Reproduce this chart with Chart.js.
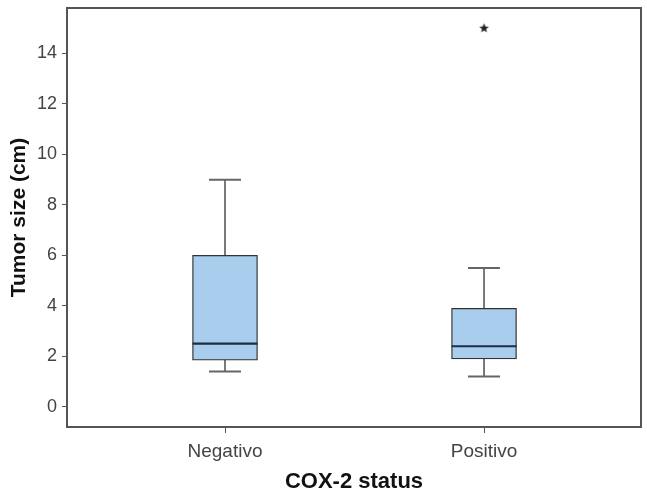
<!DOCTYPE html>
<html>
<head>
<meta charset="utf-8">
<script src="https://cdn.jsdelivr.net/npm/chart.js@4"></script>
<style>
  html, body { margin: 0; padding: 0; background: #fff; }
  #wrap { width: 647px; height: 495px; }
</style>
</head>
<body>
<div id="wrap"><canvas id="myChart" width="647" height="495"></canvas></div>
<script>
// -- DATA ---------------//
const Groups = ['Negativo', 'Positivo'];
const WhiskerLow = [1.4, 1.2];
const Q1 = [1.85, 1.9];
const Median = [2.5, 2.4];
const Q3 = [6, 3.9];
const WhiskerHigh = [9, 5.5];
const OutlierGroup = [2];
const OutlierValue = [15];
const YTicks = [0, 2, 4, 6, 8, 10, 12, 14];

// star marker for the extreme value
const star = document.createElement('canvas');
star.width = 11; star.height = 11;
(function () {
	const c = star.getContext('2d');
	c.fillStyle = '#222';
	c.beginPath();
	for (let i = 0; i < 10; i++) {
		const r = i % 2 === 0 ? 5 : 2.2;
		const a = -Math.PI / 2 + i * Math.PI / 5;
		const px = 5.5 + r * Math.cos(a), py = 5.5 + r * Math.sin(a);
		if (i === 0) c.moveTo(px, py); else c.lineTo(px, py);
	}
	c.closePath();
	c.fill();
})();

// whiskers, medians and the frame
const boxExtras = {
	id: 'boxExtras',
	afterDatasetsDraw(chart) {
		const { ctx, chartArea, scales: { x, y } } = chart;
		ctx.save();
		Groups.forEach((g, i) => {
			const cx = x.getPixelForValue(i + 1);
			const half = 32.5, cap = 16;
			ctx.strokeStyle = '#333';
			ctx.lineWidth = 1.3;
			ctx.beginPath();
			ctx.moveTo(cx, y.getPixelForValue(Q3[i]));
			ctx.lineTo(cx, y.getPixelForValue(WhiskerHigh[i]));
			ctx.moveTo(cx, y.getPixelForValue(Q1[i]));
			ctx.lineTo(cx, y.getPixelForValue(WhiskerLow[i]));
			ctx.stroke();
			ctx.strokeStyle = '#666';
			ctx.lineWidth = 2;
			ctx.beginPath();
			ctx.moveTo(cx - cap, y.getPixelForValue(WhiskerHigh[i]));
			ctx.lineTo(cx + cap, y.getPixelForValue(WhiskerHigh[i]));
			ctx.moveTo(cx - cap, y.getPixelForValue(WhiskerLow[i]));
			ctx.lineTo(cx + cap, y.getPixelForValue(WhiskerLow[i]));
			ctx.stroke();
			ctx.strokeStyle = '#1d2f45';
			ctx.lineWidth = 2.2;
			ctx.beginPath();
			ctx.moveTo(cx - half, y.getPixelForValue(Median[i]));
			ctx.lineTo(cx + half, y.getPixelForValue(Median[i]));
			ctx.stroke();
		});
		ctx.strokeStyle = '#555';
		ctx.lineWidth = 2;
		ctx.strokeRect(chartArea.left, chartArea.top, chartArea.right - chartArea.left, chartArea.bottom - chartArea.top);
		ctx.restore();
	}
};

const ctx1 = document.getElementById('myChart').getContext('2d');

const myChart = new Chart(ctx1, {
	type: 'bar',
	data: {
		datasets: [
			{
				label: 'Box',
				data: Groups.map((g, i) => ({ x: i + 1, y: [Q1[i], Q3[i]] })),
				backgroundColor: '#a9cdec',
				borderColor: '#333',
				borderWidth: 1.3,
				borderSkipped: false,
				barThickness: 65,
			},
			{
				type: 'scatter',
				label: 'Extreme',
				data: OutlierGroup.map((g, i) => ({ x: g, y: OutlierValue[i] })),
				pointStyle: star,
			},
		],
	},
	options: {
		responsive: false,
		maintainAspectRatio: false,
		animation: false,
		layout: {
			padding: { top: 8, right: 6, left: 0, bottom: 0 }
		},
		plugins: {
			legend: { display: false },
			tooltip: { enabled: false },
		},
		scales: {
			x: {
				type: 'linear',
				min: 0.39,
				max: 2.606,
				offset: false,
				afterBuildTicks: (scale) => { scale.ticks = [{ value: 1 }, { value: 2 }]; },
				afterFit: (scale) => { scale.height = 68; scale.paddingLeft = 0; scale.paddingRight = 0; },
				grid: {
					offset: false,
					drawOnChartArea: false,
					drawTicks: true,
					tickLength: 6,
					color: '#555',
				},
				border: { display: false },
				ticks: {
					padding: 7,
					color: '#444',
					font: { family: 'Liberation Sans', size: 19 },
					callback: (v) => Groups[v - 1],
				},
				title: {
					display: true,
					text: 'COX-2 status',
					color: '#111',
					font: { family: 'Liberation Sans', size: 22, weight: 'bold' },
					padding: { top: 4, bottom: 0 },
				},
			},
			y: {
				min: -0.8,
				max: 15.8,
				afterBuildTicks: (scale) => { scale.ticks = YTicks.map(v => ({ value: v })); },
				afterFit: (scale) => { scale.width = 67; scale.paddingTop = 0; scale.paddingBottom = 0; },
				grid: {
					drawOnChartArea: false,
					drawTicks: true,
					tickLength: 5,
					color: '#555',
				},
				border: { display: false },
				ticks: {
					padding: 5,
					color: '#444',
					font: { family: 'Liberation Sans', size: 18 },
				},
				title: {
					display: true,
					text: 'Tumor size (cm)',
					color: '#111',
					font: { family: 'Liberation Sans', size: 21, weight: 'bold' },
					padding: { top: 7, bottom: 0 },
				},
			},
		},
	},
	plugins: [boxExtras],
});
</script>
</body>
</html>
